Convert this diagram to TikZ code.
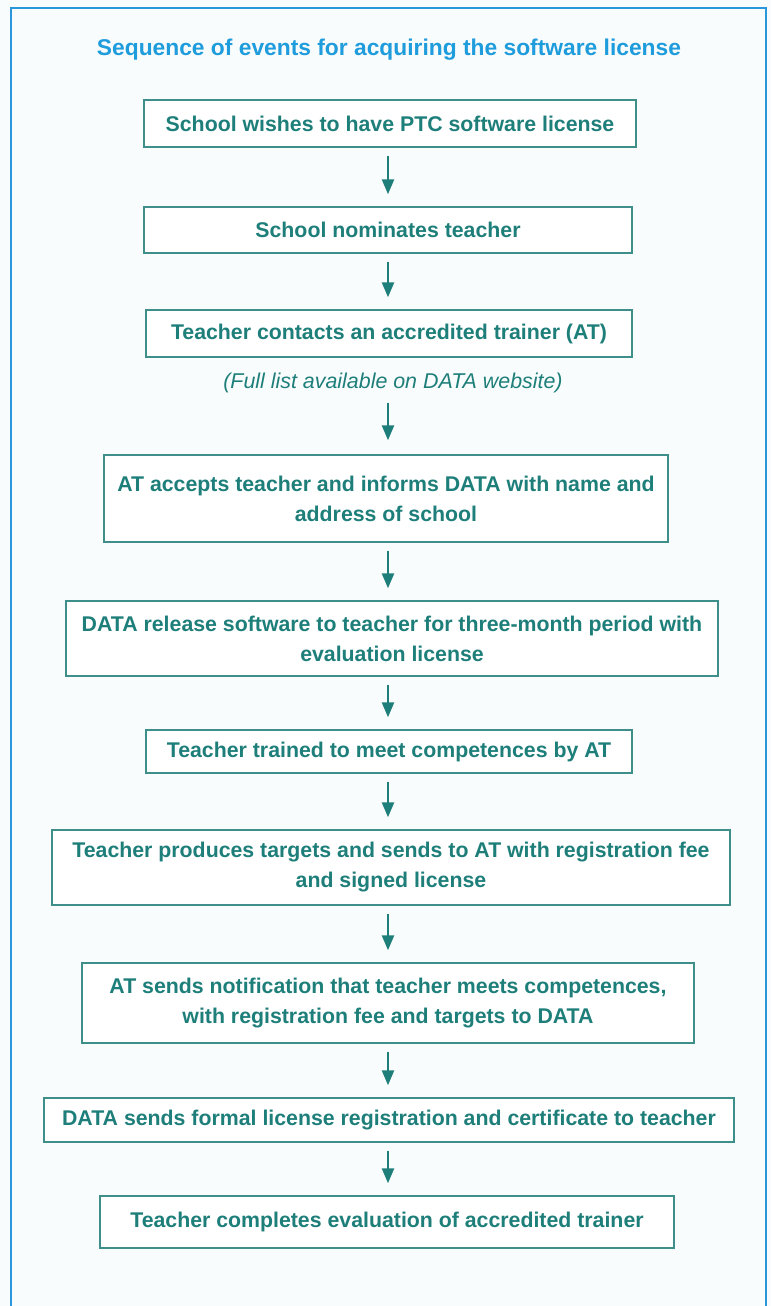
\documentclass[tikz,border=0pt]{standalone}
\usepackage{fontspec}
\setmainfont{Liberation Sans}
\usetikzlibrary{arrows.meta}
\definecolor{teal1}{HTML}{1E7F7A}
\definecolor{boxline}{HTML}{3E8E8A}
\definecolor{titleblue}{HTML}{1E9CDC}
\definecolor{frameblue}{HTML}{2A97DC}
\definecolor{bg}{HTML}{F9FCFD}
\tikzset{
  box/.style={draw=boxline, line width=1.4pt, fill=white, text=teal1, font=\fontsize{21.3}{30}\selectfont\bfseries, align=center, inner sep=2pt},
  arr/.style={draw=teal1, line width=2.4pt, -{Triangle[length=15pt,width=12pt]}, shorten <=8pt, shorten >=12pt},
}
\begin{document}
\begin{tikzpicture}[x=1pt,y=-1pt]
\fill[bg] (0,0) rectangle (771,1306);
\useasboundingbox (0,0) rectangle (771,1306);
\draw[frameblue, line width=2pt] (11,1306) -- (11,8) -- (766,8) -- (766,1306);
\node[text=titleblue, font=\fontsize{22.8}{26}\selectfont\bfseries] (title) at (389,50) {Sequence of events for acquiring the software license};
\node[box, minimum width=492pt, minimum height=47pt] (b1) at (390,123.5) {School wishes to have PTC software license};
\node[box, minimum width=488pt, minimum height=46pt] (b2) at (388,230) {School nominates teacher};
\node[box, minimum width=486pt, minimum height=47pt] (b3) at (389,333.5) {Teacher contacts an accredited trainer (AT)};
\node[text=teal1, font=\fontsize{21.4}{26}\selectfont\itshape] (note) at (393,383) {(Full list available on DATA website)};
\node[box, minimum width=564pt, minimum height=87pt] (b4) at (386,498.5) {AT accepts teacher and informs DATA with name and\\address of school};
\node[box, minimum width=652pt, minimum height=75pt] (b5) at (392,638.5) {DATA release software to teacher for three-month period with\\evaluation license};
\node[box, minimum width=486pt, minimum height=43pt] (b6) at (389,751.5) {Teacher trained to meet competences by AT};
\node[box, minimum width=678pt, minimum height=75pt] (b7) at (391,867.5) {Teacher produces targets and sends to AT with registration fee\\and signed license};
\node[box, minimum width=612pt, minimum height=80pt] (b8) at (388,1003) {AT sends notification that teacher meets competences,\\with registration fee and targets to DATA};
\node[box, minimum width=690pt, minimum height=44pt] (b9) at (389,1120) {DATA sends formal license registration and certificate to teacher};
\node[box, minimum width=574pt, minimum height=52pt] (b10) at (387,1222) {Teacher completes evaluation of accredited trainer};
\draw[arr] (b1.south -| 388,0) -- (b2.north -| 388,0);
\draw[arr] (b2.south -| 388,0) -- (b3.north -| 388,0);
\draw[arr, shorten <=6pt, shorten >=14pt] (note.south -| 388,0) -- (b4.north -| 388,0);
\draw[arr] (b4.south -| 388,0) -- (b5.north -| 388,0);
\draw[arr] (b5.south -| 388,0) -- (b6.north -| 388,0);
\draw[arr] (b6.south -| 388,0) -- (b7.north -| 388,0);
\draw[arr] (b7.south -| 388,0) -- (b8.north -| 388,0);
\draw[arr] (b8.south -| 388,0) -- (b9.north -| 388,0);
\draw[arr] (b9.south -| 388,0) -- (b10.north -| 388,0);
\end{tikzpicture}
\end{document}
